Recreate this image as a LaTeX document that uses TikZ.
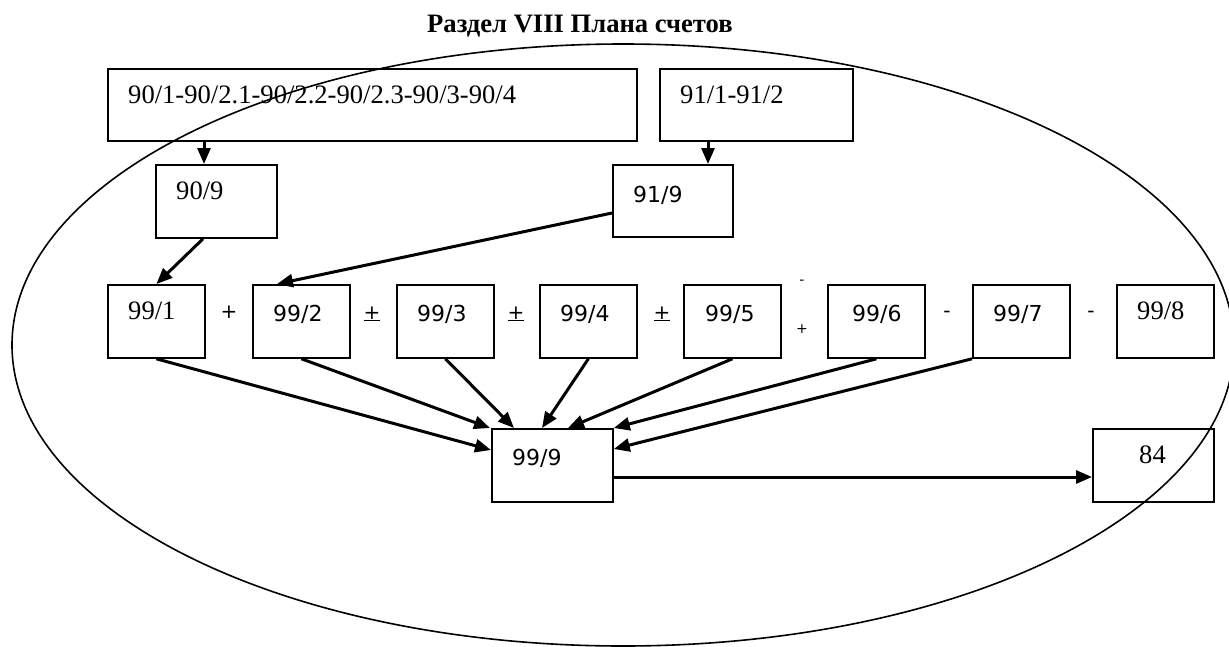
\documentclass[tikz,border=0pt]{standalone}
\usepackage{fontspec}
\setmainfont{Liberation Serif}
\newfontfamily\sansf{DejaVu Sans}
\usetikzlibrary{arrows.meta,calc}
\tikzset{
  bx/.style={draw, line width=1.8pt, inner sep=0pt, anchor=north west, minimum width=97pt, minimum height=73pt},
  serif/.style={anchor=base west, inner sep=0pt, font=\fontsize{26.6}{32}\selectfont},
  sans/.style={anchor=base west, inner sep=0pt, font=\sansf\fontsize{22}{26}\selectfont},
  op/.style={anchor=center, inner sep=0pt, font=\sansf\fontsize{20}{24}\selectfont},
  opsmall/.style={anchor=center, inner sep=0pt, font=\sansf\fontsize{14}{16}\selectfont},
  arr/.style={line width=3pt, -{Triangle[length=16pt,width=13pt]}},
  oval/.style={line width=1.6pt}
}
\begin{document}
\begin{tikzpicture}[x=1pt,y=-1pt]
\useasboundingbox (0,0) rectangle (1229,646);
% title
\node[anchor=base west, inner sep=0pt, font=\bfseries\fontsize{26.6}{32}\selectfont] (title) at (427,32) {Раздел VIII Плана счетов};
% top boxes
\node[bx, minimum width=529pt, minimum height=72pt] (A) at (107,68) {};
\node[bx, minimum width=193pt, minimum height=72pt] (B) at (659,68) {};
\node[serif] (tA) at ($(A.north west)+(21,35)$) {90/1-90/2.1-90/2.2-90/2.3-90/3-90/4};
\node[serif] (tB) at ($(B.north west)+(21,35)$) {91/1-91/2};
% second level
\node[bx, minimum width=121pt] (n90) at (155,164) {};
\node[bx, minimum width=120pt, minimum height=72pt] (n91) at (612,164) {};
\node[serif] (t90) at ($(n90.north west)+(21,35)$) {90/9};
\node[sans] (t91) at ($(n91.north west)+(21,38)$) {91/9};
% row of 99 boxes
\node[bx] (r1) at (107,284) {};
\node[bx] (r2) at (252,284) {};
\node[bx] (r3) at (396,284) {};
\node[bx] (r4) at (539,284) {};
\node[bx] (r5) at (683,284) {};
\node[bx] (r6) at (827,284) {};
\node[bx] (r7) at (972,284) {};
\node[bx] (r8) at (1116,284) {};
\node[serif] (t1) at ($(r1.north west)+(21,35)$) {99/1};
\node[sans] (t2) at ($(r2.north west)+(21,37)$) {99/2};
\node[sans] (t3) at ($(r3.north west)+(21,37)$) {99/3};
\node[sans] (t4) at ($(r4.north west)+(21,37)$) {99/4};
\node[sans] (t5) at ($(r5.north west)+(22,37)$) {99/5};
\node[sans] (t6) at ($(r6.north west)+(25,37)$) {99/6};
\node[sans] (t7) at ($(r7.north west)+(21,37)$) {99/7};
\node[serif] (t8) at ($(r8.north west)+(21,35)$) {99/8};
% operators
\node[op] (o1) at (229,312) {+};
\node[op] (o2) at (372,314) {\underline{+}};
\node[op] (o3) at (516,314) {\underline{+}};
\node[op] (o4) at (662,314) {\underline{+}};
\node[opsmall] (o5a) at (802,282) {-};
\node[opsmall] (o5b) at (802,329) {+};
\node[op] (o6) at (947,314) {-};
\node[op] (o7) at (1091,314) {-};
% bottom boxes
\node[bx, minimum width=121pt] (n99) at (491,428) {};
\node[bx, minimum width=121pt] (n84) at (1092,428) {};
\node[sans] (t99) at ($(n99.north west)+(21,37)$) {99/9};
\node[serif] (t84) at ($(n84.north west)+(47,35)$) {84};
% connectors
\coordinate (p1) at ($(n90.north west)+(49,0)$);
\coordinate (p2) at ($(n91.north west)+(96,0)$);
\draw[arr] (A.south -| p1) -- (p1);
\draw[arr] (B.south -| p2) -- (p2);
\draw[arr] ($(n90.south west)+(48,0)$) -- (r1.north);
\draw[arr] ($(n91.north west)+(0,49)$) -- ($(r2.north west)+(25,0)$);
\draw[arr] (r1.south) -- ($(n99.north west)+(0,22)$);
\draw[arr] (r2.south) -- ($(n99.north west)+(-1,0)$);
\draw[arr] (r3.south) -- ($(n99.north west)+(23,0)$);
\draw[arr] (r4.south) -- ($(n99.north west)+(51,0)$);
\draw[arr] (r5.south) -- ($(n99.north west)+(77,0)$);
\draw[arr] (r6.south) -- (n99.north east);
\draw[arr] (r7.south west) -- ($(n99.north east)+(0,21)$);
\coordinate (q) at ($(n99.north east)+(0,49)$);
\draw[arr] (q) -- (q -| n84.west);
% oval
\draw[oval] (623,345) ellipse [x radius=611, y radius=301];
\end{tikzpicture}
\end{document}
